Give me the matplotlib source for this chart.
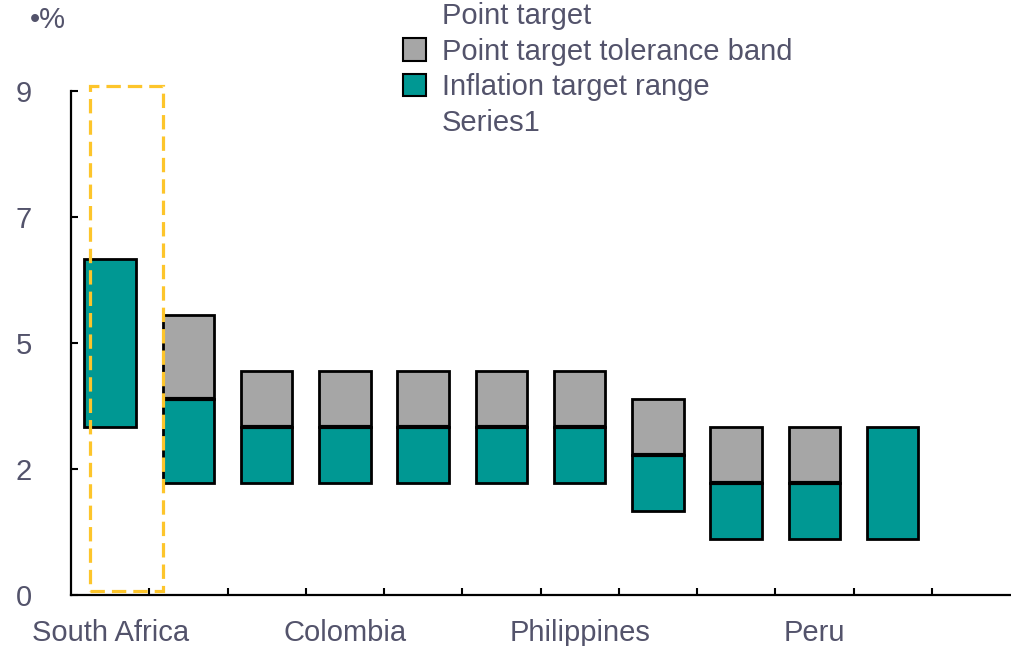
import numpy as np
import matplotlib.pyplot as plt
from matplotlib.patches import Rectangle, Patch
from matplotlib.lines import Line2D

# ---- data ----
countries = ['South Africa', 'Brazil', 'Mexico', 'Colombia', 'Chile', 'Hungary',
             'Philippines', 'Indonesia', 'Czech Republic', 'Peru', 'Thailand']
range_low = [3.0, 2.0, 2.0, 2.0, 2.0, 2.0, 2.0, 1.5, 1.0, 1.0, 1.0]
point_target = [np.nan, 3.5, 3.0, 3.0, 3.0, 3.0, 3.0, 2.5, 2.0, 2.0, np.nan]
range_high = [6.0, 5.0, 4.0, 4.0, 4.0, 4.0, 4.0, 3.5, 3.0, 3.0, 3.0]
shown_labels = [0, 3, 6, 9]
y_ticks = [0, 2.25, 4.5, 6.75, 9]
y_tick_labels = ['0', '2', '5', '7', '9']

TEXT = '#53536b'
TEAL = '#009893'
GREY = '#a6a6a6'
FS = 21
plt.rcParams['font.family'] = ['Liberation Sans', 'DejaVu Sans']

fig = plt.figure(figsize=(10.11, 6.46), dpi=100)
ax = fig.add_axes([71 / 1011, 51 / 646, 939 / 1011, 504 / 646])

x = np.arange(len(countries))
lo = np.array(range_low)
hi = np.array(range_high)
pt = np.array(point_target)
w = 0.66

# teal from low to point target (whole range when there is no point target),
# grey tolerance band above the point target
teal_top = np.where(np.isnan(pt), hi, pt)
ax.bar(x, teal_top - lo, bottom=lo, width=w, color=TEAL, edgecolor='black', linewidth=2, zorder=2)
has_pt = ~np.isnan(pt)
ax.bar(x[has_pt], (hi - pt)[has_pt], bottom=pt[has_pt], width=w, color=GREY,
       edgecolor='black', linewidth=2, zorder=2)
ax.hlines(pt[has_pt], x[has_pt] - w / 2, x[has_pt] + w / 2, color='black', linewidth=3, zorder=3)

# highlight box round South Africa
ax.add_patch(Rectangle((-0.255, 0.07), 0.93, 9.02, fill=False, edgecolor='#fdc52b',
                       linewidth=2.3, linestyle=(0, (4.5, 2.2)), zorder=4, clip_on=False))

ax.set_xlim(-0.5, 11.5)
ax.set_ylim(0, 9)
for s in ['top', 'right']:
    ax.spines[s].set_visible(False)
for s in ['left', 'bottom']:
    ax.spines[s].set_linewidth(1.6)

ax.set_yticks(y_ticks)
ax.set_yticklabels(y_tick_labels)
ax.tick_params(axis='y', direction='in', length=5, width=1.5, pad=28,
               labelsize=FS, labelcolor=TEXT)

ax.set_xticks(np.arange(0.5, 11, 1))
ax.set_xticklabels([])
ax.tick_params(axis='x', which='major', direction='in', length=5, width=1.5)
ax.set_xticks(shown_labels, minor=True)
ax.set_xticklabels([countries[i] for i in shown_labels], minor=True)
ax.tick_params(axis='x', which='minor', length=0, pad=17, labelsize=FS, labelcolor=TEXT)

fig.text(30 / 1011, 1 - 20 / 646, '•%', fontsize=FS, color=TEXT, va='center', ha='left')

handles = [Line2D([], [], color='none'),
           Patch(facecolor=GREY, edgecolor='black', linewidth=1.5),
           Patch(facecolor=TEAL, edgecolor='black', linewidth=1.5),
           Line2D([], [], color='none')]
labels = ['Point target', 'Point target tolerance band', 'Inflation target range', 'Series1']
leg = fig.legend(handles, labels, loc='upper left', bbox_to_anchor=(391 / 1011, 1 + 10 / 646),
                 frameon=False, fontsize=FS, handlelength=0.8, handleheight=0.8,
                 handletextpad=0.55, labelspacing=0.27, borderaxespad=0)
for t in leg.get_texts():
    t.set_color(TEXT)

fig.savefig('out.png', dpi=100)
